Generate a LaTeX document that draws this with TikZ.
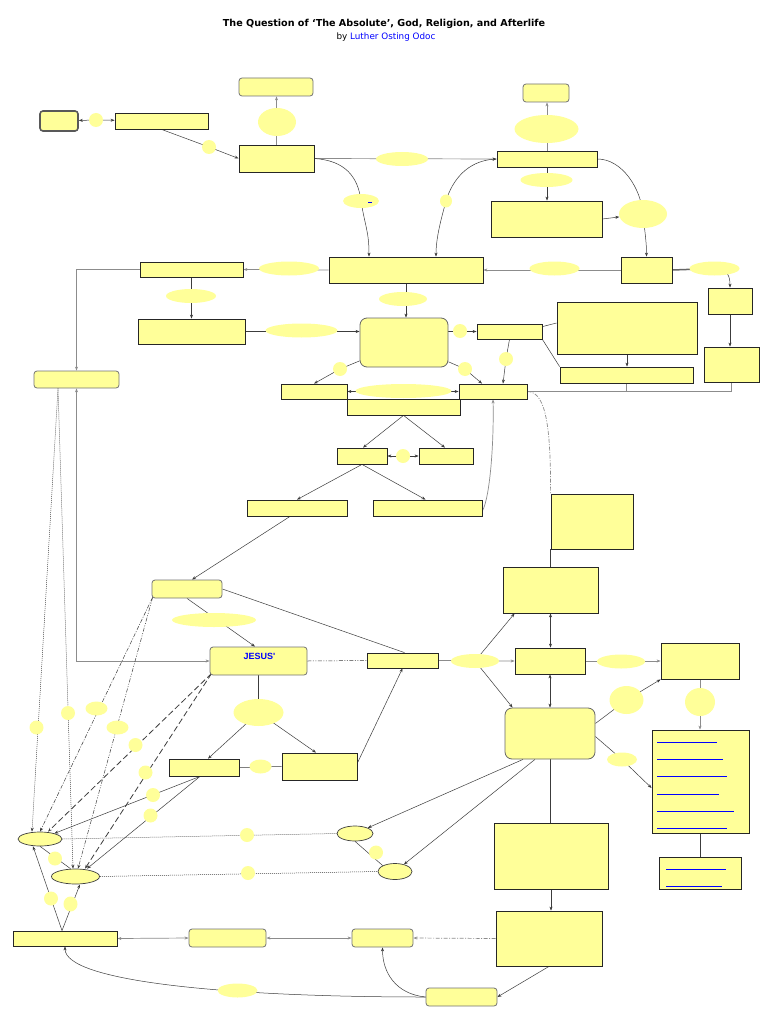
\documentclass[tikz,border=0pt]{standalone}
\usepackage{fontspec}
\setmainfont{Liberation Sans}
\newfontfamily\titlefont{DejaVu Sans}
\usetikzlibrary{shapes.geometric,arrows.meta,backgrounds,calc}
\definecolor{yfill}{RGB}{255,255,153}
\definecolor{lnk}{RGB}{0,0,255}
\definecolor{cline}{RGB}{60,60,60}
\definecolor{gline}{RGB}{140,140,140}
\newcommand\mybx[6]{%
  \pgfmathsetmacro\bxcx{(#3+#5)/2}\pgfmathsetmacro\bxcy{(#4+#6)/2}%
  \pgfmathsetmacro\bxw{#5-#3}\pgfmathsetmacro\bxh{#6-#4}%
  \node[#1,minimum width=\bxw pt,minimum height=\bxh pt] (#2) at (\bxcx,\bxcy) {};}
\newcommand\myel[5]{\node[#1,minimum width=#4*2pt,minimum height=#5*2pt] (#2) at #3 {};}
\begin{document}
\begin{tikzpicture}[x=1pt,y=-1pt,
  box/.style={draw=black!85,fill=yfill,line width=0.8pt,rectangle,inner sep=0pt},
  rbox/.style={draw=black!55,fill=yfill,line width=0.8pt,rectangle,rounded corners=3pt,inner sep=0pt},
  rboxL/.style={draw=black!60,fill=yfill,line width=0.8pt,rectangle,rounded corners=7pt,inner sep=0pt},
  tbox/.style={draw=black!65,fill=yfill,line width=1.6pt,rectangle,rounded corners=3pt,inner sep=0pt},
  lab/.style={ellipse,fill=yfill,draw=none,inner sep=0pt},
  ell/.style={ellipse,fill=yfill,draw=black!75,line width=0.7pt,inner sep=0pt},
  con/.style={draw=cline,line width=0.5pt},
  gcon/.style={draw=gline,line width=0.7pt},
  arr/.style={-{Stealth[length=4pt,width=3pt]}},
  darr/.style={{Stealth[length=4pt,width=3pt]}-{Stealth[length=4pt,width=3pt]}},
  dots/.style={dash pattern=on 1pt off 1pt},
  dsh/.style={dash pattern=on 6pt off 3pt,line width=0.8pt},
  dd/.style={dash pattern=on 4pt off 1.5pt on 1pt off 1.5pt},
  ddd/.style={dash pattern=on 4pt off 1.5pt on 1pt off 1.5pt on 1pt off 1.5pt},
  lnkline/.style={draw=lnk,line width=0.7pt}
]
\useasboundingbox (0,0) rectangle (768,1024);

% title
\node[font=\titlefont\bfseries\fontsize{9.6}{11}\selectfont] (title) at (384,24) {The Question of ‘The Absolute’, God, Religion, and Afterlife};
\node[font=\titlefont\fontsize{8.8}{11}\selectfont] (sub) at (386,37) {by \textcolor{lnk}{Luther Osting Odoc}};

% boxes
\mybx{tbox}{A0}{40}{111}{78}{131}
\mybx{box}{A1}{115}{113}{208}{129}
\mybx{box}{B}{239}{145}{314}{172}
\mybx{rbox}{T1}{239}{78}{313}{96}
\mybx{box}{C}{497}{151}{597}{167}
\mybx{rbox}{T2}{523}{84}{569}{102}
\mybx{box}{F}{491}{201}{602}{237}
\mybx{box}{H}{621}{257}{672}{283}
\mybx{box}{D}{329}{257}{483}{283}
\mybx{box}{I}{708}{288}{752}{314}
\mybx{box}{M}{704}{347}{759}{382}
\mybx{box}{E}{140}{262}{243}{277}
\mybx{box}{E2}{138}{319}{245}{344}
\mybx{rboxL}{R}{360}{318}{448}{367}
\mybx{box}{J}{477}{324}{542}{339}
\mybx{box}{K}{557}{302}{697}{354}
\mybx{box}{L}{560}{367}{693}{383}
\mybx{box}{P}{347}{399}{460}{415}
\mybx{box}{O}{281}{384}{347}{399}
\mybx{box}{N}{459}{384}{527}{399}
\mybx{rbox}{Lbox}{34}{371}{119}{388}
\mybx{box}{Q1}{337}{448}{387}{464}
\mybx{box}{Q2}{419}{448}{473}{464}
\mybx{box}{S1}{247}{500}{347}{516}
\mybx{box}{S2}{373}{500}{482}{516}
\mybx{box}{V}{551}{494}{633}{549}
\mybx{box}{W}{503}{567}{598}{613}
\mybx{box}{X}{515}{648}{585}{674}
\mybx{rboxL}{Y}{505}{708}{595}{759}
\mybx{box}{Z1}{661}{643}{739}{679}
\mybx{box}{Z2}{652}{730}{749}{833}
\mybx{box}{Z3}{659}{857}{741}{889}
\mybx{box}{AA}{494}{823}{608}{889}
\mybx{box}{AB}{496}{911}{602}{966}
\mybx{rbox}{AC}{352}{929}{413}{947}
\mybx{rbox}{AD}{426}{988}{497}{1006}
\mybx{box}{AE}{13}{931}{117}{946}
\mybx{rbox}{AF}{189}{929}{266}{947}
\mybx{rbox}{U}{152}{580}{222}{598}
\mybx{rbox}{JS}{210}{647}{307}{675}
\mybx{box}{Jb}{367}{653}{438}{668}
\mybx{box}{Sm}{169}{759}{239}{776}
\mybx{box}{Sr}{282}{753}{357}{780}

\node[text=lnk,font=\bfseries\fontsize{9}{10}\selectfont] (jstext) at (259.5,656.5) {JESUS\textquotesingle};

% labels (ellipses)
\myel{lab}{a0e}{(96,120)}{7}{7}
\myel{lab}{a1e}{(209,147)}{7}{7}
\myel{lab}{t1e}{(277,122)}{19}{14}
\myel{lab}{bce}{(402,159)}{26}{7}
\myel{lab}{t2e}{(546.5,129)}{32}{14}
\myel{lab}{ce}{(546.5,180)}{26}{7}
\myel{lab}{G}{(643,214)}{24}{14}
\myel{lab}{bde}{(361,201)}{18}{7}
\myel{lab}{cde}{(446,201)}{6}{6.5}
\myel{lab}{hde}{(554.5,268.5)}{25}{7}
\myel{lab}{hie}{(714.5,268.5)}{25}{7}
\myel{lab}{dee}{(289,268.5)}{30}{7}
\myel{lab}{ee}{(191,296)}{25}{7}
\myel{lab}{e2re}{(301.5,330.5)}{36}{7}
\myel{lab}{de}{(403,299)}{24}{7}
\myel{lab}{rje}{(460,331)}{7}{7}
\myel{lab}{rle}{(340,369)}{7}{7}
\myel{lab}{rre}{(465,369)}{7}{7}
\myel{lab}{jne}{(506,359)}{7}{7}
\myel{lab}{one}{(403.5,391)}{48}{7}
\myel{lab}{qe}{(403,456)}{7}{7}
\myel{lab}{xz1e}{(621,661.5)}{24}{7}
\myel{lab}{jxe}{(475,661)}{24}{7}
\myel{lab}{yz1e}{(626.5,700)}{17}{14}
\myel{lab}{z1z2e}{(700,702)}{15}{14}
\myel{lab}{yz2e}{(622,759.5)}{15}{7}
\myel{lab}{aede}{(237.5,990.5)}{20}{7}
\myel{lab}{ue}{(214,620)}{42}{7}
\myel{lab}{jse}{(258.5,712.5)}{25}{13.5}
\myel{lab}{sme}{(260.5,766.5)}{11}{7}
\myel{ell}{EL1}{(40,839)}{22}{7}
\myel{ell}{EL2}{(75.5,876.5)}{24}{7.5}
\myel{ell}{EL3}{(355,833.5)}{18}{7.5}
\myel{ell}{EL4}{(395,871.5)}{17}{8}
\myel{lab}{e13}{(247,835)}{7}{7}
\myel{lab}{e24}{(248,873)}{7}{7}
\myel{lab}{e34}{(376,852.5)}{7}{7}
\myel{lab}{e12}{(55,858.5)}{7}{7}
\myel{lab}{ae1}{(51,898.5)}{7}{7}
\myel{lab}{ae2}{(70.5,904)}{7}{7.5}
\myel{lab}{l1}{(36.5,727.5)}{7}{7}
\myel{lab}{l2}{(68,713)}{7}{7}
\myel{lab}{u1}{(96.5,708.5)}{11}{7}
\myel{lab}{u2}{(117.5,727.5)}{11}{7}
\myel{lab}{j1}{(135.5,745)}{7}{7}
\myel{lab}{j2}{(145.5,772.5)}{7}{7}
\myel{lab}{s1}{(153,795)}{7}{7}
\myel{lab}{s2}{(150.5,815.5)}{7}{7}

% link underlines
\draw[lnkline] ([shift={(7,1.5)}]bde.center) -- ++(4,0);
\foreach \yy/\xe in {742/717,759/723,776/727,794/719,811/734,828/727}
  \draw[lnkline] (657,\yy) -- (\xe,\yy);
\foreach \yy/\xe in {869/726,886/722}
  \draw[lnkline] (666,\yy) -- (\xe,\yy);

\begin{pgfonlayer}{background}
\fill[white] (0,0) rectangle (768,1024);
% top area
\draw[con,darr] (A0) -- (a0e.center) -- (A1);
\draw[con,arr] (A1.south) -- (a1e.center) -- (B.west);
\draw[gcon,arr] (B.north) -- (B.north |- T1.south);
\draw[gcon,arr] (B.east) -- (C.west);
\draw[con,arr] (B.east) .. controls +(30,2) and +(-3,-25) .. (bde.center) .. controls +(4,25) and +(0,-25) .. ([xshift=-37pt]D.north);
\draw[gcon,arr] (C.north) -- (C.north |- T2.south);
\draw[con,arr] (C.south) -- (C.south |- F.north);
\draw[con,arr] (F.east) -- (G);
\draw[con,arr] (C.east) .. controls +(25,0) and +(-2,-25) .. (G.center) .. controls +(2,20) and +(0,-15) .. (H.north);
\draw[con,darr] (C.west) .. controls +(-30,2) and +(6,-20) .. (cde.center) .. controls +(-4,15) and +(0,-20) .. ([xshift=30pt]D.north);
\draw[gcon,arr] (H.west) -- (D.east);
\draw[draw=black!60,line width=1.5pt] (H.east) -- (hie.center);
\draw[con,arr] (hie.center) .. controls +(14,0) and +(0,-10) .. (I.north);
\draw[con,arr] (I.south) -- (I.south |- M.north);
\draw[gcon,arr] (D.west) -- (E.east);
\draw[con,arr] (D.south) -- (D.south |- R.north);
\draw[con,arr] (E.south) -- (E.south |- E2.north);
\draw[con,arr] (E2.east) -- (E2.east -| R.west);
\draw[gcon,arr] (E.west) -| (Lbox.north);
\draw[gcon,darr] (Lbox.south) |- (JS.west);
% middle
\draw[con,arr] (R.east |- J.west) -- (J.west);
\draw[con,arr] (R) -- (rle.center) -- (O.north);
\draw[con,arr] (R) -- (rre.center) -- ([xshift=-11pt]N.north);
\draw[con,arr] (J.south) -- (jne.center) -- ([xshift=10pt]N.north);
\draw[con] ([yshift=-3pt]J.north east) -- ([yshift=5pt]K.west);
\draw[con] (J.south east) -- (L.north west);
\draw[con,arr] (K.south) -- (K.south |- L.north);
\draw[gcon] (N.east) -| (M.south);
\draw[gcon] (L.south) -- (L.south |- N.east);
\draw[con,darr] (O.east) -- (N.west);
\draw[con,arr] (P.south) -- ([xshift=1pt]Q1.north);
\draw[con,arr] (P.south) -- ([xshift=-1pt]Q2.north);
\draw[con,darr] (Q1.east) -- (Q2.west);
\draw[con,arr] (Q1.south) -- (S1.north);
\draw[con,arr] (Q1.south) -- ([xshift=-2pt]S2.north);
\draw[gcon,arr] ([yshift=-3pt]S2.east) .. controls +(8,-15) and +(1,40) .. (N.south);
\draw[gcon,dd] (N.east) .. controls +(20,0) and +(0,-60) .. (V.north west);
\draw[con,line width=0.8pt] (V.south west) -- (V.south west |- W.north);
\draw[con,darr] (W.south) -- (W.south |- X.north);
\draw[con,darr] (X.south) -- (X.south |- Y.north);
\draw[gcon,arr] (Jb.east) -- (X.west);
\draw[con,arr] (jxe.center) -- ([xshift=12pt]W.south west);
\draw[con,arr] (jxe.center) -- ([xshift=8pt]Y.north west);
\draw[gcon,arr] (X.east) -- (Z1.west);
\draw[con,arr] ([yshift=10pt]Y.east) -- (yz1e.center) -- (Z1.south west);
\draw[gcon,arr] (Z1.south) -- (Z1.south |- Z2.north);
\draw[con,arr] ([yshift=-3pt]Y.east) -- (yz2e.center) -- ([yshift=-6.5pt]Z2.west);
\draw[con,line width=0.8pt] (Z2.south) -- (Z2.south |- Z3.north);
\draw[con,line width=0.8pt] (Y.south) -- (Y.south |- AA.north);
\draw[con,arr] (AA.south) -- (AA.south |- AB.north);
% bottom
\draw[gcon,dd,arr] (AB.west) -- (AC.east);
\draw[con,arr] (AB.south) -- (AD.east);
\draw[con,arr] (AD.west) .. controls +(-30,-3) and +(0,25) .. (AC.south);
\draw[gcon,darr] (AE.east) -- (AF.west);
\draw[gcon,darr] (AF.east) -- (AC.west);
\draw[con,arr] (AD.west) .. controls +(-200,0) and +(0,35) .. (AE.south);
\draw[con,arr] ([xshift=-3pt]AE.north) -- ([xshift=-7pt]EL1.south);
\draw[con,arr] ([xshift=-3pt]AE.north) -- ([xshift=4.5pt]EL2.south);
\draw[con] (EL1.south) -- ([xshift=-5pt]EL2.north);
\draw[con,dots] (EL1.east) -- (EL3.west);
\draw[con,dots] (EL2.east) -- (EL4.west);
\draw[con] (EL3.south) -- (EL4.north west);
\draw[con,arr] ([xshift=-27pt]Y.south) -- (EL3);
\draw[con,arr] ([xshift=-15pt]Y.south) -- (EL4);
% left fan
\draw[con,dots,arr] ([xshift=-18.5pt]Lbox.south) -- ([xshift=-8pt]EL1.north);
\draw[con,dots,arr] ([xshift=-18.5pt]Lbox.south) -- ([xshift=-2.5pt]EL2.north);
\draw[con,dd,arr] ([xshift=1pt,yshift=1pt]U.south west) -- (EL1.north);
\draw[con,ddd,arr] ([xshift=1pt,yshift=1pt]U.south west) -- ([xshift=2.5pt]EL2.north);
\draw[con,dsh,arr] ([xshift=2pt,yshift=2pt]JS.south west) -- ([xshift=8pt]EL1.north);
\draw[con,dsh,arr] ([xshift=2pt,yshift=2pt]JS.south west) -- ([xshift=9.5pt]EL2.north);
\draw[con,arr] ([xshift=-4pt]Sm.south) -- (EL1);
\draw[con,arr] ([xshift=-4pt]Sm.south) -- ([xshift=11.5pt]EL2.north);
\draw[con] (JS.south) -- (jse.center);
\draw[con,arr] (jse.center) -- ([xshift=4pt]Sm.north);
\draw[con,arr] (jse.center) -- ([xshift=-3.5pt]Sr.north);
\draw[con] (Sm.east) -- (Sr.west);
\draw[con,arr] ([yshift=3.5pt]Sr.east) -- (Jb.south);
\draw[con,arr] (U.south) -- ([xshift=-3.5pt]JS.north);
\draw[con] (U.east) -- ([xshift=2pt]Jb.north);
\draw[con,ddd] (JS.east) -- (Jb.west);
\draw[con,arr] ([xshift=-7pt]S1.south) -- ([xshift=5pt]U.north);
\end{pgfonlayer}
\end{tikzpicture}
\end{document}
